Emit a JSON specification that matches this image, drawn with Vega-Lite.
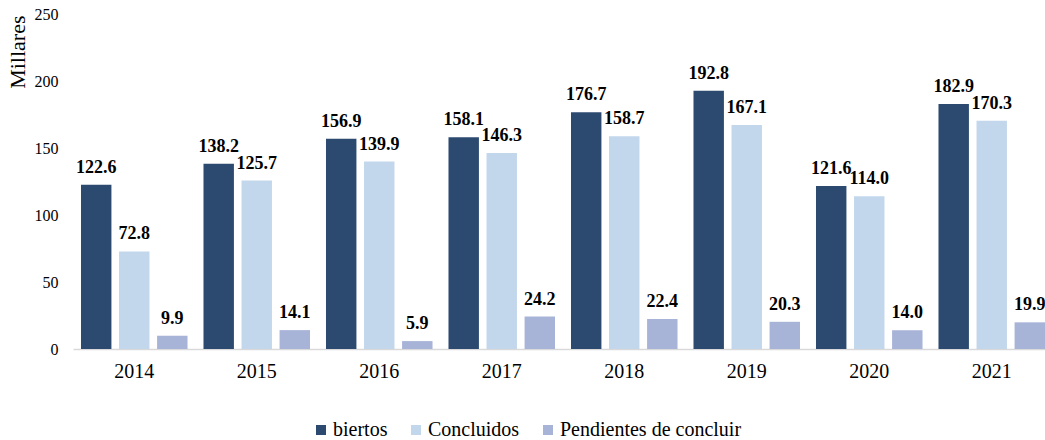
{
  "$schema": "https://vega.github.io/schema/vega-lite/v6.json",
  "autosize": "none",
  "width": 972,
  "height": 335,
  "padding": {"left": 73, "top": 14, "right": 0, "bottom": 91},
  "background": "white",
  "config": {
    "view": {"stroke": null},
    "font": "Liberation Serif",
    "text": {"font": "Liberation Serif"},
    "style": {"guide-label": {"font": "Liberation Serif"}, "guide-title": {"font": "Liberation Serif"}},
    "legend": {"labelFont": "Liberation Serif"},
    "axis": {"labelFont": "Liberation Serif", "titleFont": "Liberation Serif"}
  },
  "data": {
    "values": [
      {"year": "2014", "serie": "biertos", "value": 122.6},
      {"year": "2014", "serie": "Concluidos", "value": 72.8},
      {"year": "2014", "serie": "Pendientes de concluir", "value": 9.9},
      {"year": "2015", "serie": "biertos", "value": 138.2},
      {"year": "2015", "serie": "Concluidos", "value": 125.7},
      {"year": "2015", "serie": "Pendientes de concluir", "value": 14.1},
      {"year": "2016", "serie": "biertos", "value": 156.9},
      {"year": "2016", "serie": "Concluidos", "value": 139.9},
      {"year": "2016", "serie": "Pendientes de concluir", "value": 5.9},
      {"year": "2017", "serie": "biertos", "value": 158.1},
      {"year": "2017", "serie": "Concluidos", "value": 146.3},
      {"year": "2017", "serie": "Pendientes de concluir", "value": 24.2},
      {"year": "2018", "serie": "biertos", "value": 176.7},
      {"year": "2018", "serie": "Concluidos", "value": 158.7},
      {"year": "2018", "serie": "Pendientes de concluir", "value": 22.4},
      {"year": "2019", "serie": "biertos", "value": 192.8},
      {"year": "2019", "serie": "Concluidos", "value": 167.1},
      {"year": "2019", "serie": "Pendientes de concluir", "value": 20.3},
      {"year": "2020", "serie": "biertos", "value": 121.6},
      {"year": "2020", "serie": "Concluidos", "value": 114.0},
      {"year": "2020", "serie": "Pendientes de concluir", "value": 14.0},
      {"year": "2021", "serie": "biertos", "value": 182.9},
      {"year": "2021", "serie": "Concluidos", "value": 170.3},
      {"year": "2021", "serie": "Pendientes de concluir", "value": 19.9}
    ]
  },
  "encoding": {
    "x": {
      "field": "year", "type": "nominal",
      "scale": {"range": [0, 980], "paddingInner": 0, "paddingOuter": 0},
      "axis": {
        "title": null, "labelAngle": 0, "ticks": false,
        "domainColor": "#D9D9D9", "domainWidth": 1.5,
        "labelFontSize": 20, "labelColor": "#000000", "labelPadding": 12
      }
    },
    "xOffset": {
      "field": "serie", "type": "nominal",
      "sort": ["biertos", "Concluidos", "Pendientes de concluir"],
      "scale": {"paddingInner": 0.2, "paddingOuter": 0.21}
    },
    "y": {
      "field": "value", "type": "quantitative",
      "scale": {"domain": [0, 250]},
      "axis": {
        "title": "Millares", "values": [0, 50, 100, 150, 200, 250],
        "grid": false, "domain": false, "ticks": false,
        "labelFontSize": 16, "labelColor": "#000000", "labelPadding": 15,
        "titleFontSize": 22, "titleFontWeight": "normal", "titleColor": "#000000",
        "titleX": -56, "titleY": 1, "titleAlign": "right", "titleBaseline": "middle", "titleAngle": 270
      }
    }
  },
  "layer": [
    {
      "mark": {"type": "bar"},
      "encoding": {
        "color": {
          "field": "serie", "type": "nominal",
          "sort": ["biertos", "Concluidos", "Pendientes de concluir"],
          "scale": {
            "domain": ["biertos", "Concluidos", "Pendientes de concluir"],
            "range": ["#2C4A70", "#C3D7EC", "#A8B3D8"]
          },
          "legend": {
            "title": null, "orient": "none", "direction": "horizontal",
            "legendX": 238, "legendY": 406,
            "symbolType": "square", "symbolSize": 100, "symbolStrokeWidth": 0,
            "labelFont": "Liberation Serif",
            "labelFontSize": 20, "labelColor": "#000000", "labelOffset": 2,
            "labelLimit": 400,
            "columnPadding": 18
          }
        }
      }
    },
    {
      "mark": {"type": "text", "dy": -12, "baseline": "alphabetic", "fontSize": 18, "fontWeight": "bold", "color": "#000000", "font": "Liberation Serif"},
      "encoding": {
        "text": {"field": "value", "type": "quantitative", "format": ".1f"}
      }
    }
  ]
}
